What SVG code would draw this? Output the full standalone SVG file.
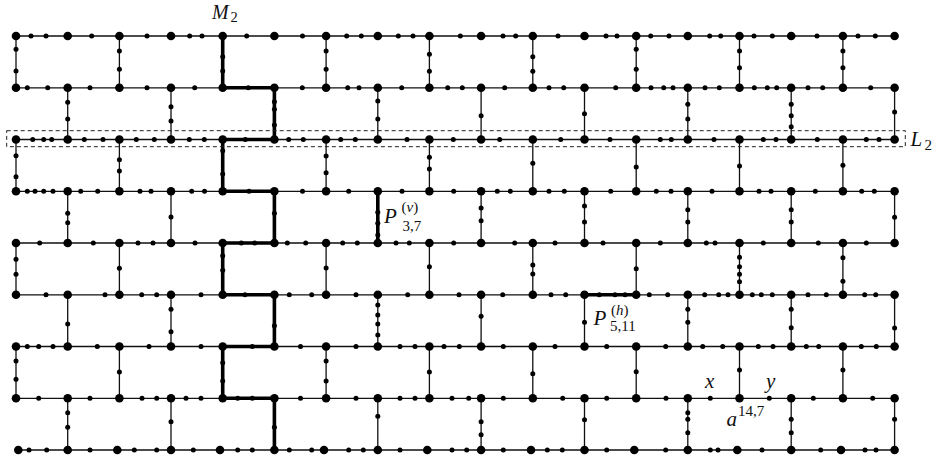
<svg xmlns="http://www.w3.org/2000/svg" width="935" height="463" viewBox="0 0 935 463">
<style>
.ln{stroke:#111;stroke-width:1.3;fill:none}
.th{stroke:#000;stroke-width:3.6;fill:none;stroke-linejoin:miter;stroke-linecap:square}
.B{fill:#000}
.s{fill:#000}
.t{font-family:"Liberation Serif","DejaVu Serif",serif;fill:#111}
.i{font-style:italic}
</style>
<rect width="935" height="463" fill="#fff"/>
<g id="connectors">
<g class="ln">
<path d="M16 36H894.6M16 87.8H894.6M16 139.5H894.6M16 191.3H894.6M16 243H894.6M16 294.8H894.6M16 346.5H894.6M16 398.3H894.6M18.3 450H894.6"/>
<path d="M16 36V87.8M119.4 36V87.8M222.7 36V87.8M326.1 36V87.8M429.4 36V87.8M532.8 36V87.8M636.2 36V87.8M739.5 36V87.8M842.9 36V87.8"/>
<path d="M67.7 87.8V139.5M171 87.8V139.5M274.4 87.8V139.5M377.8 87.8V139.5M481.1 87.8V139.5M584.5 87.8V139.5M687.8 87.8V139.5M791.2 87.8V139.5M894.6 87.8V139.5"/>
<path d="M16 139.5V191.3M119.4 139.5V191.3M222.7 139.5V191.3M326.1 139.5V191.3M429.4 139.5V191.3M532.8 139.5V191.3M636.2 139.5V191.3M739.5 139.5V191.3M842.9 139.5V191.3"/>
<path d="M67.7 191.3V243M171 191.3V243M274.4 191.3V243M377.8 191.3V243M481.1 191.3V243M584.5 191.3V243M687.8 191.3V243M791.2 191.3V243M894.6 191.3V243"/>
<path d="M16 243V294.8M119.4 243V294.8M222.7 243V294.8M326.1 243V294.8M429.4 243V294.8M532.8 243V294.8M636.2 243V294.8M739.5 243V294.8M842.9 243V294.8"/>
<path d="M67.7 294.8V346.5M171 294.8V346.5M274.4 294.8V346.5M377.8 294.8V346.5M481.1 294.8V346.5M584.5 294.8V346.5M687.8 294.8V346.5M791.2 294.8V346.5M894.6 294.8V346.5"/>
<path d="M16 346.5V398.3M119.4 346.5V398.3M222.7 346.5V398.3M326.1 346.5V398.3M429.4 346.5V398.3M532.8 346.5V398.3M636.2 346.5V398.3M739.5 346.5V398.3M842.9 346.5V398.3"/>
<path d="M67.7 398.3V450M171 398.3V450M274.4 398.3V450M377.8 398.3V450M481.1 398.3V450M584.5 398.3V450M687.8 398.3V450M791.2 398.3V450M894.6 398.3V450"/>
</g>
<path id="M2-path" class="th" d="M222.7 36V87.8H274.4V139.5H222.7V191.3H274.4V243H222.7V294.8H274.4V346.5H222.7V398.3H274.4V450"/>
<path id="Pv" class="th" d="M377.8 191.3V243"/>
<path id="Ph" class="th" d="M584.5 294.8H636.2"/>
<rect id="L2-box" x="6.7" y="130.7" width="898.6" height="16" fill="none" stroke="#222" stroke-width="1" stroke-dasharray="4 3"/>
</g>
<g id="big-nodes" class="B">
<g id="row0-big"><circle cx="16" cy="36" r="4.3"/><circle cx="67.7" cy="36" r="4.3"/><circle cx="119.4" cy="36" r="4.3"/><circle cx="171" cy="36" r="4.3"/><circle cx="222.7" cy="36" r="4.3"/><circle cx="274.4" cy="36" r="4.3"/><circle cx="326.1" cy="36" r="4.3"/><circle cx="377.8" cy="36" r="4.3"/><circle cx="429.4" cy="36" r="4.3"/><circle cx="481.1" cy="36" r="4.3"/><circle cx="532.8" cy="36" r="4.3"/><circle cx="584.5" cy="36" r="4.3"/><circle cx="636.2" cy="36" r="4.3"/><circle cx="687.8" cy="36" r="4.3"/><circle cx="739.5" cy="36" r="4.3"/><circle cx="791.2" cy="36" r="4.3"/><circle cx="842.9" cy="36" r="4.3"/><circle cx="894.6" cy="36" r="4.3"/></g>
<g id="row1-big"><circle cx="16" cy="87.8" r="4.3"/><circle cx="67.7" cy="87.8" r="4.3"/><circle cx="119.4" cy="87.8" r="4.3"/><circle cx="171" cy="87.8" r="4.3"/><circle cx="222.7" cy="87.8" r="4.3"/><circle cx="274.4" cy="87.8" r="4.3"/><circle cx="326.1" cy="87.8" r="4.3"/><circle cx="377.8" cy="87.8" r="4.3"/><circle cx="429.4" cy="87.8" r="4.3"/><circle cx="481.1" cy="87.8" r="4.3"/><circle cx="532.8" cy="87.8" r="4.3"/><circle cx="584.5" cy="87.8" r="4.3"/><circle cx="636.2" cy="87.8" r="4.3"/><circle cx="687.8" cy="87.8" r="4.3"/><circle cx="739.5" cy="87.8" r="4.3"/><circle cx="791.2" cy="87.8" r="4.3"/><circle cx="842.9" cy="87.8" r="4.3"/><circle cx="894.6" cy="87.8" r="4.3"/></g>
<g id="row2-big"><circle cx="16" cy="139.5" r="4.3"/><circle cx="67.7" cy="139.5" r="4.3"/><circle cx="119.4" cy="139.5" r="4.3"/><circle cx="171" cy="139.5" r="4.3"/><circle cx="222.7" cy="139.5" r="4.3"/><circle cx="274.4" cy="139.5" r="4.3"/><circle cx="326.1" cy="139.5" r="4.3"/><circle cx="377.8" cy="139.5" r="4.3"/><circle cx="429.4" cy="139.5" r="4.3"/><circle cx="481.1" cy="139.5" r="4.3"/><circle cx="532.8" cy="139.5" r="4.3"/><circle cx="584.5" cy="139.5" r="4.3"/><circle cx="636.2" cy="139.5" r="4.3"/><circle cx="687.8" cy="139.5" r="4.3"/><circle cx="739.5" cy="139.5" r="4.3"/><circle cx="791.2" cy="139.5" r="4.3"/><circle cx="842.9" cy="139.5" r="4.3"/><circle cx="894.6" cy="139.5" r="4.3"/></g>
<g id="row3-big"><circle cx="16" cy="191.3" r="4.3"/><circle cx="67.7" cy="191.3" r="4.3"/><circle cx="119.4" cy="191.3" r="4.3"/><circle cx="171" cy="191.3" r="4.3"/><circle cx="222.7" cy="191.3" r="4.3"/><circle cx="274.4" cy="191.3" r="4.3"/><circle cx="326.1" cy="191.3" r="4.3"/><circle cx="377.8" cy="191.3" r="4.3"/><circle cx="429.4" cy="191.3" r="4.3"/><circle cx="481.1" cy="191.3" r="4.3"/><circle cx="532.8" cy="191.3" r="4.3"/><circle cx="584.5" cy="191.3" r="4.3"/><circle cx="636.2" cy="191.3" r="4.3"/><circle cx="687.8" cy="191.3" r="4.3"/><circle cx="739.5" cy="191.3" r="4.3"/><circle cx="791.2" cy="191.3" r="4.3"/><circle cx="842.9" cy="191.3" r="4.3"/><circle cx="894.6" cy="191.3" r="4.3"/></g>
<g id="row4-big"><circle cx="16" cy="243" r="4.3"/><circle cx="67.7" cy="243" r="4.3"/><circle cx="119.4" cy="243" r="4.3"/><circle cx="171" cy="243" r="4.3"/><circle cx="222.7" cy="243" r="4.3"/><circle cx="274.4" cy="243" r="4.3"/><circle cx="326.1" cy="243" r="4.3"/><circle cx="377.8" cy="243" r="4.3"/><circle cx="429.4" cy="243" r="4.3"/><circle cx="481.1" cy="243" r="4.3"/><circle cx="532.8" cy="243" r="4.3"/><circle cx="584.5" cy="243" r="4.3"/><circle cx="636.2" cy="243" r="4.3"/><circle cx="687.8" cy="243" r="4.3"/><circle cx="739.5" cy="243" r="4.3"/><circle cx="791.2" cy="243" r="4.3"/><circle cx="842.9" cy="243" r="4.3"/><circle cx="894.6" cy="243" r="4.3"/></g>
<g id="row5-big"><circle cx="16" cy="294.8" r="4.3"/><circle cx="67.7" cy="294.8" r="4.3"/><circle cx="119.4" cy="294.8" r="4.3"/><circle cx="171" cy="294.8" r="4.3"/><circle cx="222.7" cy="294.8" r="4.3"/><circle cx="274.4" cy="294.8" r="4.3"/><circle cx="326.1" cy="294.8" r="4.3"/><circle cx="377.8" cy="294.8" r="4.3"/><circle cx="429.4" cy="294.8" r="4.3"/><circle cx="481.1" cy="294.8" r="4.3"/><circle cx="532.8" cy="294.8" r="4.3"/><circle cx="584.5" cy="294.8" r="4.3"/><circle cx="636.2" cy="294.8" r="4.3"/><circle cx="687.8" cy="294.8" r="4.3"/><circle cx="739.5" cy="294.8" r="4.3"/><circle cx="791.2" cy="294.8" r="4.3"/><circle cx="842.9" cy="294.8" r="4.3"/><circle cx="894.6" cy="294.8" r="4.3"/></g>
<g id="row6-big"><circle cx="16" cy="346.5" r="4.3"/><circle cx="67.7" cy="346.5" r="4.3"/><circle cx="119.4" cy="346.5" r="4.3"/><circle cx="171" cy="346.5" r="4.3"/><circle cx="222.7" cy="346.5" r="4.3"/><circle cx="274.4" cy="346.5" r="4.3"/><circle cx="326.1" cy="346.5" r="4.3"/><circle cx="377.8" cy="346.5" r="4.3"/><circle cx="429.4" cy="346.5" r="4.3"/><circle cx="481.1" cy="346.5" r="4.3"/><circle cx="532.8" cy="346.5" r="4.3"/><circle cx="584.5" cy="346.5" r="4.3"/><circle cx="636.2" cy="346.5" r="4.3"/><circle cx="687.8" cy="346.5" r="4.3"/><circle cx="739.5" cy="346.5" r="4.3"/><circle cx="791.2" cy="346.5" r="4.3"/><circle cx="842.9" cy="346.5" r="4.3"/><circle cx="894.6" cy="346.5" r="4.3"/></g>
<g id="row7-big"><circle cx="16" cy="398.3" r="4.3"/><circle cx="67.7" cy="398.3" r="4.3"/><circle cx="119.4" cy="398.3" r="4.3"/><circle cx="171" cy="398.3" r="4.3"/><circle cx="222.7" cy="398.3" r="4.3"/><circle cx="274.4" cy="398.3" r="4.3"/><circle cx="326.1" cy="398.3" r="4.3"/><circle cx="377.8" cy="398.3" r="4.3"/><circle cx="429.4" cy="398.3" r="4.3"/><circle cx="481.1" cy="398.3" r="4.3"/><circle cx="532.8" cy="398.3" r="4.3"/><circle cx="584.5" cy="398.3" r="4.3"/><circle cx="636.2" cy="398.3" r="4.3"/><circle cx="687.8" cy="398.3" r="4.3"/><circle cx="739.5" cy="398.3" r="4.3"/><circle cx="791.2" cy="398.3" r="4.3"/><circle cx="842.9" cy="398.3" r="4.3"/><circle cx="894.6" cy="398.3" r="4.3"/></g>
<g id="row8-big"><circle cx="18.3" cy="450" r="4.3"/><circle cx="67.7" cy="450" r="4.3"/><circle cx="117.3" cy="450" r="4.3"/><circle cx="171" cy="450" r="4.3"/><circle cx="220" cy="450" r="4.3"/><circle cx="274.4" cy="450" r="4.3"/><circle cx="324" cy="450" r="4.3"/><circle cx="377.8" cy="450" r="4.3"/><circle cx="427.3" cy="450" r="4.3"/><circle cx="481.1" cy="450" r="4.3"/><circle cx="531" cy="450" r="4.3"/><circle cx="584.5" cy="450" r="4.3"/><circle cx="634.3" cy="450" r="4.3"/><circle cx="687.8" cy="450" r="4.3"/><circle cx="737.3" cy="450" r="4.3"/><circle cx="791.2" cy="450" r="4.3"/><circle cx="841" cy="450" r="4.3"/><circle cx="894.6" cy="450" r="4.3"/></g>
</g>
<g id="small-nodes" class="s">
<g id="row0-small"><circle cx="31" cy="36" r="2.5"/><circle cx="46" cy="36" r="2.5"/><circle cx="91.7" cy="36" r="2.5"/><circle cx="147" cy="36" r="2.5"/><circle cx="189.7" cy="36" r="2.5"/><circle cx="202" cy="36" r="2.5"/><circle cx="246.7" cy="36" r="2.5"/><circle cx="302.5" cy="36" r="2.5"/><circle cx="346.7" cy="36" r="2.5"/><circle cx="361.3" cy="36" r="2.5"/><circle cx="398.3" cy="36" r="2.5"/><circle cx="413" cy="36" r="2.5"/><circle cx="460.3" cy="36" r="2.5"/><circle cx="503" cy="36" r="2.5"/><circle cx="515.7" cy="36" r="2.5"/><circle cx="558" cy="36" r="2.5"/><circle cx="606" cy="36" r="2.5"/><circle cx="617" cy="36" r="2.5"/><circle cx="650.7" cy="36" r="2.5"/><circle cx="669" cy="36" r="2.5"/><circle cx="709.7" cy="36" r="2.5"/><circle cx="720.7" cy="36" r="2.5"/><circle cx="754" cy="36" r="2.5"/><circle cx="772.3" cy="36" r="2.5"/><circle cx="817" cy="36" r="2.5"/><circle cx="858" cy="36" r="2.5"/><circle cx="875.3" cy="36" r="2.5"/></g>
<g id="row1-small"><circle cx="27.3" cy="87.8" r="2.5"/><circle cx="47.7" cy="87.8" r="2.5"/><circle cx="90" cy="87.8" r="2.5"/><circle cx="147" cy="87.8" r="2.5"/><circle cx="194.7" cy="87.8" r="2.5"/><circle cx="248.3" cy="87.8" r="2.5"/><circle cx="302.3" cy="87.8" r="2.5"/><circle cx="347.7" cy="87.8" r="2.5"/><circle cx="359" cy="87.8" r="2.5"/><circle cx="401.7" cy="87.8" r="2.5"/><circle cx="447.7" cy="87.8" r="2.5"/><circle cx="462.3" cy="87.8" r="2.5"/><circle cx="504.7" cy="87.8" r="2.5"/><circle cx="549" cy="87.8" r="2.5"/><circle cx="563.7" cy="87.8" r="2.5"/><circle cx="615.7" cy="87.8" r="2.5"/><circle cx="651" cy="87.8" r="2.5"/><circle cx="663.7" cy="87.8" r="2.5"/><circle cx="673" cy="87.8" r="2.5"/><circle cx="705" cy="87.8" r="2.5"/><circle cx="719.3" cy="87.8" r="2.5"/><circle cx="754.3" cy="87.8" r="2.5"/><circle cx="767.3" cy="87.8" r="2.5"/><circle cx="776.7" cy="87.8" r="2.5"/><circle cx="808" cy="87.8" r="2.5"/><circle cx="822.7" cy="87.8" r="2.5"/><circle cx="870.7" cy="87.8" r="2.5"/></g>
<g id="row2-small"><circle cx="32.7" cy="139.5" r="2.5"/><circle cx="43.7" cy="139.5" r="2.5"/><circle cx="51.7" cy="139.5" r="2.5"/><circle cx="84.3" cy="139.5" r="2.5"/><circle cx="103" cy="139.5" r="2.5"/><circle cx="136.3" cy="139.5" r="2.5"/><circle cx="154.3" cy="139.5" r="2.5"/><circle cx="189.3" cy="139.5" r="2.5"/><circle cx="204.3" cy="139.5" r="2.5"/><circle cx="245.3" cy="139.5" r="2.5"/><circle cx="288.7" cy="139.5" r="2.5"/><circle cx="303.3" cy="139.5" r="2.5"/><circle cx="340.7" cy="139.5" r="2.5"/><circle cx="355.3" cy="139.5" r="2.5"/><circle cx="407" cy="139.5" r="2.5"/><circle cx="453.3" cy="139.5" r="2.5"/><circle cx="499.7" cy="139.5" r="2.5"/><circle cx="560.7" cy="139.5" r="2.5"/><circle cx="610" cy="139.5" r="2.5"/><circle cx="660.3" cy="139.5" r="2.5"/><circle cx="671.3" cy="139.5" r="2.5"/><circle cx="714" cy="139.5" r="2.5"/><circle cx="763.3" cy="139.5" r="2.5"/><circle cx="776" cy="139.5" r="2.5"/><circle cx="817.3" cy="139.5" r="2.5"/><circle cx="866.3" cy="139.5" r="2.5"/><circle cx="879" cy="139.5" r="2.5"/></g>
<g id="row3-small"><circle cx="27.3" cy="191.3" r="2.5"/><circle cx="35" cy="191.3" r="2.5"/><circle cx="43.7" cy="191.3" r="2.5"/><circle cx="53" cy="191.3" r="2.5"/><circle cx="80.7" cy="191.3" r="2.5"/><circle cx="97.7" cy="191.3" r="2.5"/><circle cx="140" cy="191.3" r="2.5"/><circle cx="151" cy="191.3" r="2.5"/><circle cx="191.7" cy="191.3" r="2.5"/><circle cx="204.5" cy="191.3" r="2.5"/><circle cx="249" cy="191.3" r="2.5"/><circle cx="302.5" cy="191.3" r="2.5"/><circle cx="348.7" cy="191.3" r="2.5"/><circle cx="402" cy="191.3" r="2.5"/><circle cx="453.7" cy="191.3" r="2.5"/><circle cx="497.3" cy="191.3" r="2.5"/><circle cx="510.3" cy="191.3" r="2.5"/><circle cx="549" cy="191.3" r="2.5"/><circle cx="564.3" cy="191.3" r="2.5"/><circle cx="610.7" cy="191.3" r="2.5"/><circle cx="656.3" cy="191.3" r="2.5"/><circle cx="671" cy="191.3" r="2.5"/><circle cx="712" cy="191.3" r="2.5"/><circle cx="759" cy="191.3" r="2.5"/><circle cx="771" cy="191.3" r="2.5"/><circle cx="815.3" cy="191.3" r="2.5"/><circle cx="861.7" cy="191.3" r="2.5"/><circle cx="874.3" cy="191.3" r="2.5"/></g>
<g id="row4-small"><circle cx="39.7" cy="243" r="2.5"/><circle cx="93.3" cy="243" r="2.5"/><circle cx="138" cy="243" r="2.5"/><circle cx="153" cy="243" r="2.5"/><circle cx="195" cy="243" r="2.5"/><circle cx="241.3" cy="243" r="2.5"/><circle cx="254.7" cy="243" r="2.5"/><circle cx="287.3" cy="243" r="2.5"/><circle cx="305.7" cy="243" r="2.5"/><circle cx="342.7" cy="243" r="2.5"/><circle cx="357.3" cy="243" r="2.5"/><circle cx="396" cy="243" r="2.5"/><circle cx="409.3" cy="243" r="2.5"/><circle cx="453.7" cy="243" r="2.5"/><circle cx="514.7" cy="243" r="2.5"/><circle cx="555" cy="243" r="2.5"/><circle cx="603" cy="243" r="2.5"/><circle cx="660.3" cy="243" r="2.5"/><circle cx="706.3" cy="243" r="2.5"/><circle cx="715" cy="243" r="2.5"/><circle cx="763.3" cy="243" r="2.5"/><circle cx="818.3" cy="243" r="2.5"/><circle cx="866.3" cy="243" r="2.5"/></g>
<g id="row5-small"><circle cx="46" cy="294.8" r="2.5"/><circle cx="105" cy="294.8" r="2.5"/><circle cx="141.7" cy="294.8" r="2.5"/><circle cx="156.7" cy="294.8" r="2.5"/><circle cx="201" cy="294.8" r="2.5"/><circle cx="245" cy="294.8" r="2.5"/><circle cx="289.3" cy="294.8" r="2.5"/><circle cx="311.7" cy="294.8" r="2.5"/><circle cx="356" cy="294.8" r="2.5"/><circle cx="407.7" cy="294.8" r="2.5"/><circle cx="459" cy="294.8" r="2.5"/><circle cx="502.7" cy="294.8" r="2.5"/><circle cx="551" cy="294.8" r="2.5"/><circle cx="565.7" cy="294.8" r="2.5"/><circle cx="599.3" cy="294.8" r="2.5"/><circle cx="615" cy="294.8" r="2.5"/><circle cx="625" cy="294.8" r="2.5"/><circle cx="649.3" cy="294.8" r="2.5"/><circle cx="667.7" cy="294.8" r="2.5"/><circle cx="704.7" cy="294.8" r="2.5"/><circle cx="718.7" cy="294.8" r="2.5"/><circle cx="728" cy="294.8" r="2.5"/><circle cx="752.3" cy="294.8" r="2.5"/><circle cx="761.3" cy="294.8" r="2.5"/><circle cx="772.3" cy="294.8" r="2.5"/><circle cx="808" cy="294.8" r="2.5"/><circle cx="826.3" cy="294.8" r="2.5"/><circle cx="864.7" cy="294.8" r="2.5"/><circle cx="875.7" cy="294.8" r="2.5"/></g>
<g id="row6-small"><circle cx="27.3" cy="346.5" r="2.5"/><circle cx="38.7" cy="346.5" r="2.5"/><circle cx="53" cy="346.5" r="2.5"/><circle cx="97.3" cy="346.5" r="2.5"/><circle cx="149" cy="346.5" r="2.5"/><circle cx="201" cy="346.5" r="2.5"/><circle cx="252.3" cy="346.5" r="2.5"/><circle cx="300.5" cy="346.5" r="2.5"/><circle cx="356" cy="346.5" r="2.5"/><circle cx="400" cy="346.5" r="2.5"/><circle cx="415" cy="346.5" r="2.5"/><circle cx="444" cy="346.5" r="2.5"/><circle cx="459.3" cy="346.5" r="2.5"/><circle cx="503.3" cy="346.5" r="2.5"/><circle cx="555" cy="346.5" r="2.5"/><circle cx="606.7" cy="346.5" r="2.5"/><circle cx="665.7" cy="346.5" r="2.5"/><circle cx="702.7" cy="346.5" r="2.5"/><circle cx="722.7" cy="346.5" r="2.5"/><circle cx="758.3" cy="346.5" r="2.5"/><circle cx="773" cy="346.5" r="2.5"/><circle cx="806.3" cy="346.5" r="2.5"/><circle cx="818.7" cy="346.5" r="2.5"/><circle cx="861.3" cy="346.5" r="2.5"/><circle cx="876.3" cy="346.5" r="2.5"/></g>
<g id="row7-small"><circle cx="38.7" cy="398.3" r="2.5"/><circle cx="90" cy="398.3" r="2.5"/><circle cx="142" cy="398.3" r="2.5"/><circle cx="156.7" cy="398.3" r="2.5"/><circle cx="186" cy="398.3" r="2.5"/><circle cx="201" cy="398.3" r="2.5"/><circle cx="237.7" cy="398.3" r="2.5"/><circle cx="252.3" cy="398.3" r="2.5"/><circle cx="300.5" cy="398.3" r="2.5"/><circle cx="356" cy="398.3" r="2.5"/><circle cx="400" cy="398.3" r="2.5"/><circle cx="415" cy="398.3" r="2.5"/><circle cx="452" cy="398.3" r="2.5"/><circle cx="468.7" cy="398.3" r="2.5"/><circle cx="503.3" cy="398.3" r="2.5"/><circle cx="562.7" cy="398.3" r="2.5"/><circle cx="606.7" cy="398.3" r="2.5"/><circle cx="666" cy="398.3" r="2.5"/><circle cx="710.3" cy="398.3" r="2.5"/><circle cx="769.3" cy="398.3" r="2.5"/><circle cx="813.3" cy="398.3" r="2.5"/><circle cx="872.7" cy="398.3" r="2.5"/></g>
<g id="row8-small"><circle cx="29" cy="450" r="2.5"/><circle cx="46.7" cy="450" r="2.5"/><circle cx="90" cy="450" r="2.5"/><circle cx="134.3" cy="450" r="2.5"/><circle cx="156.7" cy="450" r="2.5"/><circle cx="193.3" cy="450" r="2.5"/><circle cx="237.7" cy="450" r="2.5"/><circle cx="252.3" cy="450" r="2.5"/><circle cx="289.3" cy="450" r="2.5"/><circle cx="311.7" cy="450" r="2.5"/><circle cx="348.7" cy="450" r="2.5"/><circle cx="363.3" cy="450" r="2.5"/><circle cx="400" cy="450" r="2.5"/><circle cx="452" cy="450" r="2.5"/><circle cx="466.7" cy="450" r="2.5"/><circle cx="503.3" cy="450" r="2.5"/><circle cx="547.3" cy="450" r="2.5"/><circle cx="562.3" cy="450" r="2.5"/><circle cx="606.7" cy="450" r="2.5"/><circle cx="665.7" cy="450" r="2.5"/><circle cx="710.3" cy="450" r="2.5"/><circle cx="718" cy="450" r="2.5"/><circle cx="762" cy="450" r="2.5"/><circle cx="820.7" cy="450" r="2.5"/><circle cx="865" cy="450" r="2.5"/><circle cx="876" cy="450" r="2.5"/></g>
<g id="v0-small"><circle cx="16" cy="49.3" r="2.5"/><circle cx="16" cy="71" r="2.5"/><circle cx="119.4" cy="51" r="2.5"/><circle cx="119.4" cy="69.3" r="2.5"/><circle cx="222.7" cy="56.7" r="2.5"/><circle cx="222.7" cy="71" r="2.5"/><circle cx="326.1" cy="51" r="2.5"/><circle cx="326.1" cy="69.3" r="2.5"/><circle cx="429.4" cy="54.3" r="2.5"/><circle cx="429.4" cy="71.3" r="2.5"/><circle cx="532.8" cy="56.7" r="2.5"/><circle cx="532.8" cy="71.3" r="2.5"/><circle cx="636.2" cy="49.3" r="2.5"/><circle cx="636.2" cy="69.3" r="2.5"/><circle cx="739.5" cy="51" r="2.5"/><circle cx="739.5" cy="67.7" r="2.5"/><circle cx="842.9" cy="51" r="2.5"/><circle cx="842.9" cy="67.7" r="2.5"/></g>
<g id="v1-small"><circle cx="67.7" cy="102.3" r="2.5"/><circle cx="67.7" cy="119" r="2.5"/><circle cx="171" cy="106.7" r="2.5"/><circle cx="171" cy="121" r="2.5"/><circle cx="274.4" cy="101.7" r="2.5"/><circle cx="274.4" cy="109.3" r="2.5"/><circle cx="274.4" cy="125" r="2.5"/><circle cx="377.8" cy="101" r="2.5"/><circle cx="377.8" cy="119" r="2.5"/><circle cx="481.1" cy="115.7" r="2.5"/><circle cx="584.5" cy="113.7" r="2.5"/><circle cx="687.8" cy="104.3" r="2.5"/><circle cx="687.8" cy="119" r="2.5"/><circle cx="791.2" cy="104.3" r="2.5"/><circle cx="791.2" cy="115.7" r="2.5"/><circle cx="791.2" cy="126.7" r="2.5"/><circle cx="894.6" cy="112" r="2.5"/></g>
<g id="v2-small"><circle cx="16" cy="155.7" r="2.5"/><circle cx="16" cy="176.7" r="2.5"/><circle cx="119.4" cy="159.7" r="2.5"/><circle cx="119.4" cy="171" r="2.5"/><circle cx="222.7" cy="150.7" r="2.5"/><circle cx="222.7" cy="174" r="2.5"/><circle cx="326.1" cy="156" r="2.5"/><circle cx="326.1" cy="172.7" r="2.5"/><circle cx="429.4" cy="157.3" r="2.5"/><circle cx="429.4" cy="169" r="2.5"/><circle cx="532.8" cy="163.3" r="2.5"/><circle cx="636.2" cy="167" r="2.5"/><circle cx="739.5" cy="166" r="2.5"/><circle cx="842.9" cy="165.3" r="2.5"/></g>
<g id="v3-small"><circle cx="67.7" cy="213.3" r="2.5"/><circle cx="67.7" cy="222.7" r="2.5"/><circle cx="171" cy="217" r="2.5"/><circle cx="274.4" cy="213.3" r="2.5"/><circle cx="377.8" cy="212.3" r="2.5"/><circle cx="377.8" cy="223.3" r="2.5"/><circle cx="377.8" cy="235" r="2.5"/><circle cx="481.1" cy="208" r="2.5"/><circle cx="481.1" cy="220.7" r="2.5"/><circle cx="584.5" cy="206" r="2.5"/><circle cx="584.5" cy="222" r="2.5"/><circle cx="687.8" cy="209.7" r="2.5"/><circle cx="687.8" cy="222" r="2.5"/><circle cx="791.2" cy="209.7" r="2.5"/><circle cx="791.2" cy="222" r="2.5"/><circle cx="894.6" cy="217.3" r="2.5"/></g>
<g id="v4-small"><circle cx="16" cy="259.3" r="2.5"/><circle cx="16" cy="274.3" r="2.5"/><circle cx="119.4" cy="268.3" r="2.5"/><circle cx="222.7" cy="255.7" r="2.5"/><circle cx="222.7" cy="270.3" r="2.5"/><circle cx="326.1" cy="268" r="2.5"/><circle cx="429.4" cy="266.7" r="2.5"/><circle cx="532.8" cy="265" r="2.5"/><circle cx="532.8" cy="274" r="2.5"/><circle cx="636.2" cy="268.7" r="2.5"/><circle cx="739.5" cy="257.3" r="2.5"/><circle cx="739.5" cy="266.7" r="2.5"/><circle cx="739.5" cy="274.3" r="2.5"/><circle cx="739.5" cy="281.7" r="2.5"/><circle cx="842.9" cy="257.7" r="2.5"/><circle cx="842.9" cy="281.3" r="2.5"/></g>
<g id="v5-small"><circle cx="67.7" cy="324" r="2.5"/><circle cx="171" cy="309.3" r="2.5"/><circle cx="171" cy="331.7" r="2.5"/><circle cx="274.4" cy="325.7" r="2.5"/><circle cx="377.8" cy="305" r="2.5"/><circle cx="377.8" cy="315" r="2.5"/><circle cx="377.8" cy="324" r="2.5"/><circle cx="377.8" cy="335" r="2.5"/><circle cx="481.1" cy="316.3" r="2.5"/><circle cx="584.5" cy="322.3" r="2.5"/><circle cx="687.8" cy="309.3" r="2.5"/><circle cx="687.8" cy="322.3" r="2.5"/><circle cx="791.2" cy="309.3" r="2.5"/><circle cx="791.2" cy="327.7" r="2.5"/><circle cx="894.6" cy="328" r="2.5"/></g>
<g id="v6-small"><circle cx="16" cy="361" r="2.5"/><circle cx="16" cy="379.3" r="2.5"/><circle cx="119.4" cy="372" r="2.5"/><circle cx="222.7" cy="362.7" r="2.5"/><circle cx="222.7" cy="381" r="2.5"/><circle cx="326.1" cy="361" r="2.5"/><circle cx="326.1" cy="381" r="2.5"/><circle cx="429.4" cy="372" r="2.5"/><circle cx="532.8" cy="373.7" r="2.5"/><circle cx="636.2" cy="371.7" r="2.5"/><circle cx="739.5" cy="370" r="2.5"/><circle cx="842.9" cy="370" r="2.5"/></g>
<g id="v7-small"><circle cx="67.7" cy="412.7" r="2.5"/><circle cx="67.7" cy="427.3" r="2.5"/><circle cx="171" cy="421.7" r="2.5"/><circle cx="274.4" cy="427.3" r="2.5"/><circle cx="377.8" cy="416.3" r="2.5"/><circle cx="481.1" cy="421.7" r="2.5"/><circle cx="481.1" cy="434.7" r="2.5"/><circle cx="584.5" cy="419.7" r="2.5"/><circle cx="687.8" cy="412.7" r="2.5"/><circle cx="687.8" cy="419.3" r="2.5"/><circle cx="687.8" cy="432.7" r="2.5"/><circle cx="791.2" cy="419.3" r="2.5"/><circle cx="791.2" cy="432.7" r="2.5"/><circle cx="894.6" cy="419.3" r="2.5"/></g>
</g>
<g id="labels" class="t">
<g id="label-M2"><text x="212" y="19" font-size="20" class="i">M</text><text x="230.5" y="22" font-size="14.5">2</text></g>
<g id="label-L2"><text x="910.5" y="146" font-size="21" class="i">L</text><text x="924.5" y="149.5" font-size="15">2</text></g>
<g id="label-Pv"><text x="384" y="223" font-size="21" class="i">P</text><text x="401.5" y="212" font-size="15">(<tspan class="i">v</tspan>)</text><text x="402.5" y="230.5" font-size="15">3,7</text></g>
<g id="label-Ph"><text x="593.5" y="325" font-size="21" class="i">P</text><text x="611" y="314.5" font-size="15">(<tspan class="i">h</tspan>)</text><text x="610" y="331" font-size="15">5,11</text></g>
<g id="label-x"><text x="705" y="388" font-size="21" class="i">x</text></g>
<g id="label-y"><text x="766" y="388" font-size="21" class="i">y</text></g>
<g id="label-a"><text x="726.5" y="426" font-size="21" class="i">a</text><text x="738" y="416" font-size="15">14,7</text></g>
</g>
</svg>
